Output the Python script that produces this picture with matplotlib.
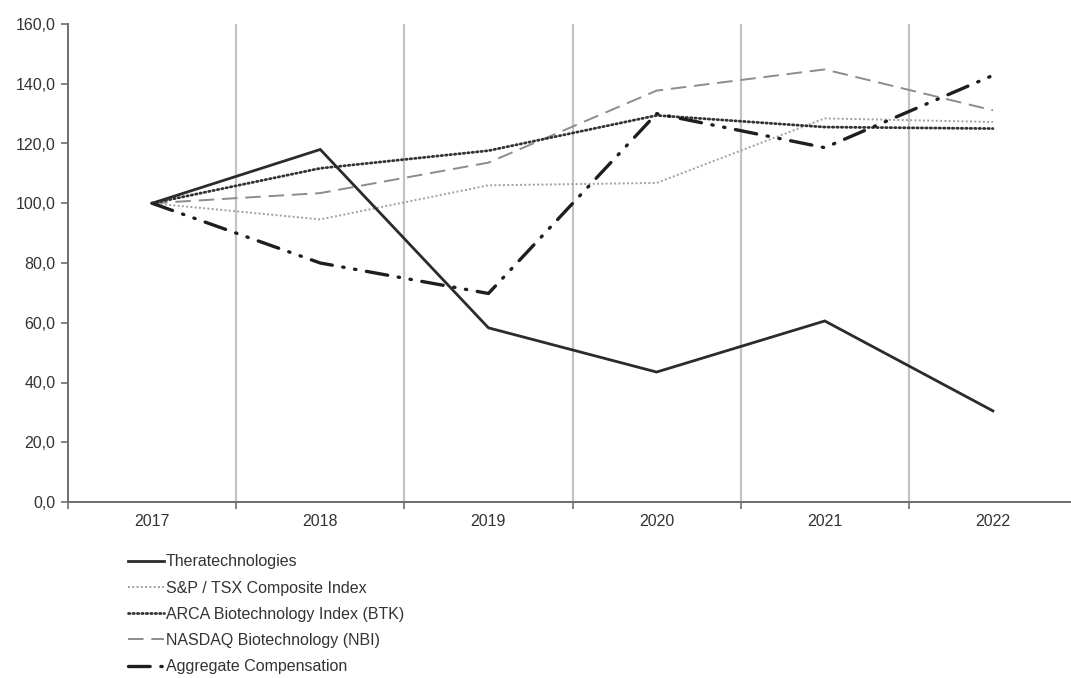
import numpy as np
import matplotlib
matplotlib.use("Agg")
import matplotlib.pyplot as plt
from matplotlib.ticker import FuncFormatter, FixedLocator

plt.rcParams['font.family'] = ['Liberation Sans', 'DejaVu Sans']

years = ['2017', '2018', '2019', '2020', '2021', '2022']
thera = [100.0, 118.0, 58.3, 43.5, 60.6, 30.5]
sp_tsx = [100.0, 94.6, 106.0, 106.8, 128.4, 127.2]
arca_btk = [100.0, 111.7, 117.6, 129.4, 125.5, 125.0]
nasdaq_nbi = [100.0, 103.4, 113.6, 137.7, 144.8, 131.1]
aggregate = [100.0, 80.0, 69.8, 130.0, 118.6, 142.8]

W, H = 1071, 678
fig = plt.figure(figsize=(W / 100, H / 100), dpi=100)
ax = fig.add_axes([68 / W, (H - 502) / H, (W - 68) / W, 478 / H])

x = np.arange(len(years))

# vertical separators between the years
for xv in np.arange(0.5, len(years) - 0.5, 1.0):
    ax.axvline(xv, color='#c4c4c4', lw=1.6, zorder=1)

ax.plot(x, thera, color='#2b2b2b', lw=2.0, solid_joinstyle='miter',
        label='Theratechnologies', zorder=5)
ax.plot(x, sp_tsx, color='#a0a0a0', lw=1.4, dashes=(1.0, 1.2),
        label='S&P / TSX Composite Index', zorder=3)
ax.plot(x, arca_btk, color='#333333', lw=2.0, dashes=(0.5, 1.1),
        dash_capstyle='round', label='ARCA Biotechnology Index (BTK)', zorder=4)
ax.plot(x, nasdaq_nbi, color='#8c8c8c', lw=1.4, dashes=(8, 4),
        label='NASDAQ Biotechnology (NBI)', zorder=3)
ax.plot(x, aggregate, color='#1e1e1e', lw=2.4, dashes=(6.5, 3.2, 0.4, 3.2, 0.4, 3.2),
        dash_capstyle='round', label='Aggregate Compensation', zorder=4)

ax.set_xlim(-0.5, (W - 153) / 168.0)
ax.set_ylim(0, 160)
ax.set_yticks(np.arange(0, 161, 20))
ax.yaxis.set_major_formatter(FuncFormatter(lambda v, p: f'{v:.1f}'.replace('.', ',')))
ax.set_xticks(x)
ax.set_xticklabels(years)
ax.xaxis.set_minor_locator(FixedLocator(np.arange(-0.5, len(years) - 0.5, 1.0)))

for s in ['top', 'right']:
    ax.spines[s].set_visible(False)
for s in ['left', 'bottom']:
    ax.spines[s].set_color('#6e6e6e')
    ax.spines[s].set_linewidth(1.4)

ax.tick_params(axis='y', length=5, width=1.2, color='#6e6e6e', labelsize=11.5,
               labelcolor='#333333', pad=4)
ax.tick_params(axis='x', which='major', length=0, labelsize=11.5,
               labelcolor='#333333', pad=9)
ax.tick_params(axis='x', which='minor', length=5, width=1.2, color='#6e6e6e')

leg = fig.legend(loc='upper left', bbox_to_anchor=(122 / W, 1 - 548 / H),
                 frameon=False, fontsize=11.5, handlelength=2.2, handletextpad=0.15,
                 labelspacing=0.7, borderaxespad=0)
for t in leg.get_texts():
    t.set_color('#333333')

fig.savefig('out.png', dpi=100)
